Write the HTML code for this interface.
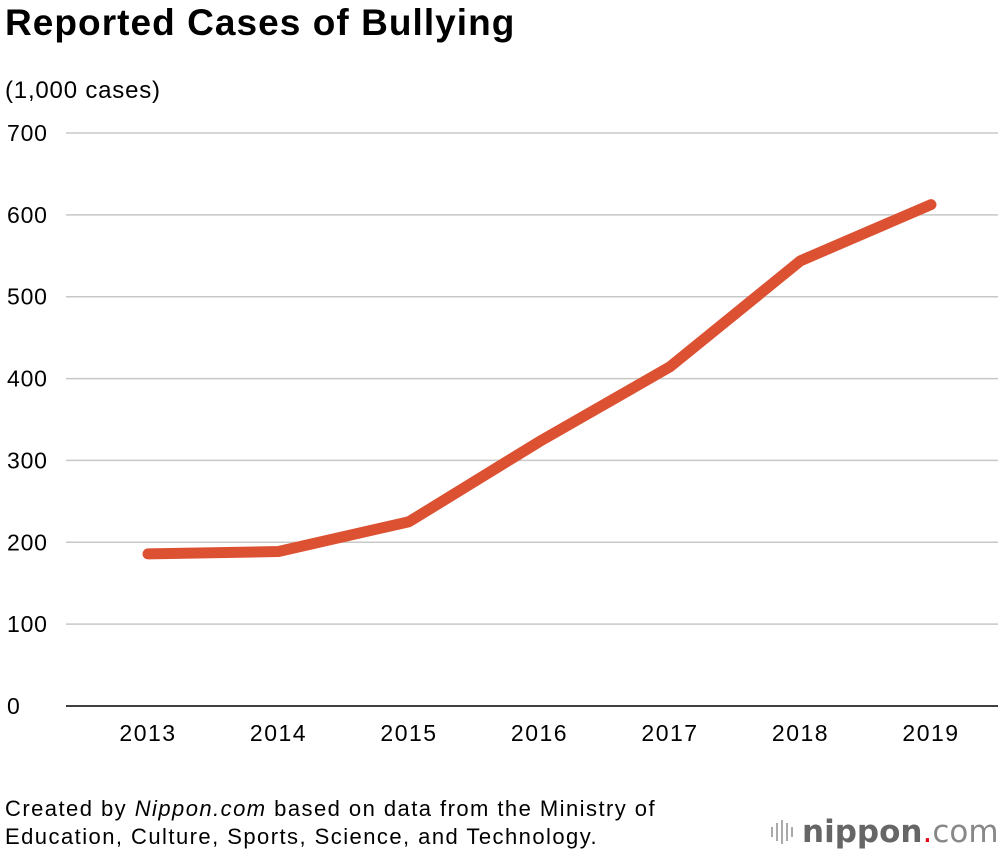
<!DOCTYPE html>
<html><head><meta charset="utf-8"><style>
body{margin:0;width:1000px;height:856px;background:#fff;font-family:"Liberation Sans",sans-serif;overflow:hidden;position:relative}
.t{position:absolute;white-space:nowrap;color:#000}
</style></head><body>
<div class="t" style="left:5px;top:2px;font-size:37px;font-weight:bold;letter-spacing:1.05px">Reported Cases of Bullying</div>
<div class="t" style="left:5px;top:77px;font-size:24px;letter-spacing:0.8px">(1,000 cases)</div>
<svg id="chart" width="1000" height="780" style="position:absolute;left:0;top:0"></svg>
<div class="t" style="left:5px;top:795px;font-size:22px;line-height:28px;letter-spacing:1.45px">Created by <i>Nippon.com</i> based on data from the Ministry of<br>Education, Culture, Sports, Science, and Technology.</div>
<div style="position:absolute;left:770px;top:814px;display:flex;align-items:center">
<svg width="30" height="32"><g stroke="#aaa" stroke-width="2"><line x1="2" y1="11" x2="2" y2="21"/><line x1="7" y1="7" x2="7" y2="25"/><line x1="12" y1="4" x2="12" y2="28"/><line x1="17" y1="7" x2="17" y2="25"/><line x1="22" y1="11" x2="22" y2="21"/></g></svg>
<span style="font-family:'DejaVu Sans',sans-serif;font-size:31px;color:#666;font-weight:bold;margin-left:2px">nippon</span><span style="font-family:'DejaVu Sans',sans-serif;font-size:31px;color:#e60012">.</span><span style="font-family:'DejaVu Sans',sans-serif;font-size:31px;color:#888">com</span>
</div>
<script>
const years=["2013","2014","2015","2016","2017","2018","2019"];
const cases=[185.8,188.7,225.1,323.1,414.4,543.9,612.5];
const yTicks=[0,100,200,300,400,500,600,700];
const svg=document.getElementById('chart');
const NS='http://www.w3.org/2000/svg';
const y=v=>706-v*(573/700);
const x=i=>148+i*130.5;
function mk(t,a){const e=document.createElementNS(NS,t);for(const k in a)e.setAttribute(k,a[k]);svg.appendChild(e);return e;}
yTicks.forEach(v=>{
 const l=mk('line',{x1:66,x2:998,y1:y(v),y2:y(v),stroke:v===0?'#000':'#c8c8c8','stroke-width':1.5});
 
 
 const t=mk('text',{x:7,y:y(v)+8,'font-size':23,'letter-spacing':0.8,'font-family':'Liberation Sans, sans-serif',fill:'#000'});
 t.textContent=v;
 
 
});
years.forEach((yr,i)=>{
 const t=mk('text',{x:x(i),y:741,'font-size':23,'letter-spacing':1.5,'text-anchor':'middle','font-family':'Liberation Sans, sans-serif',fill:'#000'});
 t.textContent=yr;
 
 
});
const p=mk('polyline',{points:cases.map((v,i)=>x(i)+','+y(v)).join(' '),fill:'none',stroke:'#dc5132','stroke-width':11,'stroke-linecap':'round','stroke-linejoin':'round'});


</script>
</body></html>
